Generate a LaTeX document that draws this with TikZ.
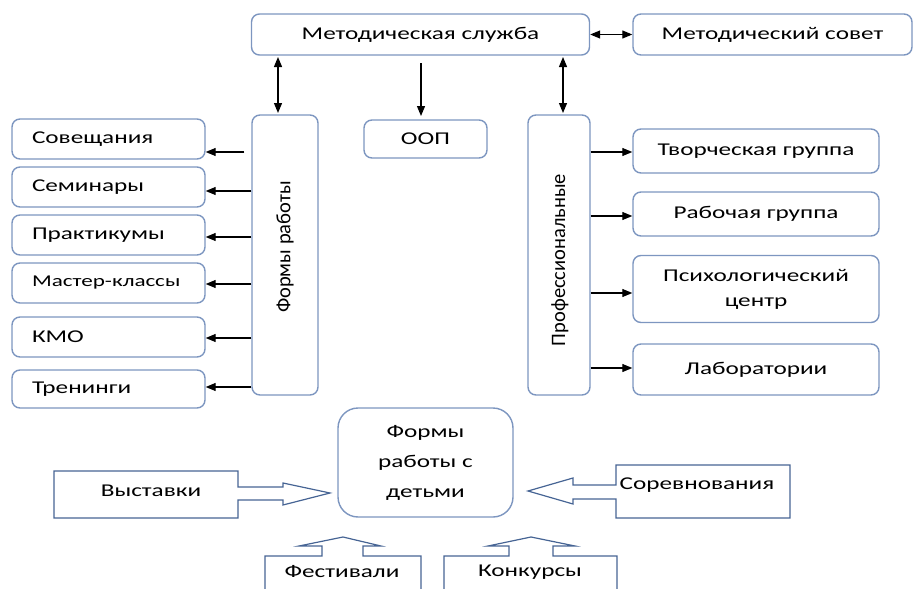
\documentclass[tikz,border=0pt]{standalone}
\usepackage{fontspec}
\setmainfont{Carlito}[FakeStretch=1.4]
\newfontfamily\rotfont{Carlito}
\usetikzlibrary{arrows.meta}
\definecolor{bordc}{RGB}{125,150,192}
\definecolor{callc}{RGB}{70,100,148}
\newcommand\fsz{\fontsize{18}{25}\selectfont}
\newcommand\rsz{\rotfont\fontsize{20.5}{25}\selectfont}
\begin{document}
\begin{tikzpicture}[x=1pt,y=-1pt,
  rbox/.style={draw=bordc, line width=1.4pt, rounded corners=8pt, fill=white, inner sep=0pt, font=\fsz, align=center},
  lbox/.style={rbox, inner xsep=20pt, text width=153pt, align=left, minimum width=193pt, minimum height=40pt},
  rtbox/.style={rbox, minimum width=246pt},
  txt/.style={font=\fsz, inner sep=0pt},
  rtxt/.style={font=\rsz, inner sep=0pt, rotate=90},
  arr/.style={-{Triangle[length=10pt,width=8pt]}, line width=1.2pt, black},
  darr/.style={{Triangle[length=10pt,width=8pt]}-{Triangle[length=10pt,width=8pt]}, line width=1.2pt, black},
  call/.style={draw=callc, line width=1.2pt, line join=miter}
]
\useasboundingbox (0,0) rectangle (914,589);
% top
\node[rbox, minimum width=338pt, minimum height=41pt] (ms) at (420.5,34.5) {Методическая служба};
\node[rbox, minimum width=279pt, minimum height=41pt] (sovet) at (772.5,34.5) {Методический совет};
% vertical boxes
\node[rbox, minimum width=66pt, minimum height=280pt] (fr) at (285,255) {};
\node[rtxt] (frt) at (285,247) {Формы работы};
\node[rbox, minimum width=123pt, minimum height=38pt] (oop) at (425.5,139) {ООП};
\node[rbox, minimum width=62pt, minimum height=280pt] (prof) at (559,255) {};
\node[rtxt] (proft) at (560,260) {Профессиональные};
% left boxes
\node[lbox] (sov) at (108.5,139) {Совещания};
\node[lbox] (sem) at (108.5,187) {Семинары};
\node[lbox] (prak) at (108.5,235) {Практикумы};
\node[lbox, font=\fontsize{16.5}{20}\selectfont] (mast) at (108.5,283) {Мастер-классы};
\node[lbox] (kmo) at (108.5,337) {КМО};
\node[lbox, minimum height=38pt] (tren) at (108.5,389) {Тренинги};
% right boxes
\node[rtbox, minimum height=44pt] (tvor) at (756,151) {Творческая группа};
\node[rtbox, minimum height=44pt] (rab) at (756,214) {Рабочая группа};
\node[rtbox, minimum height=67pt] (psy) at (756,289) {Психологический\\центр};
\node[rtbox, minimum height=51pt] (lab) at (756,369.5) {Лаборатории};
% children box
\node[rbox, rounded corners=20pt, minimum width=175pt, minimum height=109pt,
      font=\fontsize{18}{30}\selectfont] (deti) at (425.5,462.5) {Формы\\работы с\\детьми};
% connectors top
\draw[darr] (ms.east) -- (sovet.west);
\coordinate (a1) at (278,57);
\coordinate (a2) at (278,113);
\draw[darr] (a1) -- (a2);
\coordinate (b1) at (421,63);
\coordinate (b2) at (421,116);
\draw[arr] (b1) -- (b2);
\coordinate (c1) at (563,57);
\coordinate (c2) at (563,113);
\draw[darr] (c1) -- (c2);
% left connectors
\draw[arr] ([xshift=-7pt]fr.west |- 0,152) -- (sov.east |- 0,152);
\draw[arr] (fr.west |- 0,191) -- (sem.east |- 0,191);
\draw[arr] (fr.west |- 0,237) -- (prak.east |- 0,237);
\draw[arr] (fr.west |- 0,284) -- (mast.east |- 0,284);
\draw[arr] (fr.west |- 0,338) -- (kmo.east |- 0,338);
\draw[arr] (fr.west |- 0,387) -- (tren.east |- 0,387);
% right connectors
\draw[arr] (prof.east |- 0,152) -- (tvor.west |- 0,152);
\draw[arr] (prof.east |- 0,216) -- (rab.west |- 0,216);
\draw[arr] (prof.east |- 0,293) -- (psy.west |- 0,293);
\draw[arr] (prof.east |- 0,368) -- (lab.west |- 0,368);
% callouts
\draw[call] (54,471) -- (238,471) -- (238,487) -- (283,487) -- (283,483) -- (330,493) -- (283,505) -- (283,500) -- (238,500) -- (238,518) -- (54,518) -- cycle;
\node[txt] (vyst) at (151,491) {Выставки};
\draw[call] (790,465) -- (616,465) -- (616,485) -- (573,485) -- (573,478) -- (528,491) -- (573,504) -- (573,499) -- (616,499) -- (616,518) -- (790,518) -- cycle;
\node[txt] (sor) at (697,485) {Соревнования};
\draw[call] (265,595) -- (265,556) -- (322,556) -- (322,546) -- (299,546) -- (343,537) -- (381,546) -- (363,546) -- (363,556) -- (421,556) -- (421,595);
\node[txt] (fest) at (342,572) {Фестивали};
\draw[call] (444,595) -- (444,556) -- (509,556) -- (509,546) -- (488,546) -- (531,537) -- (575,546) -- (553,546) -- (553,556) -- (617,556) -- (617,595);
\node[txt] (konk) at (530,572) {Конкурсы};
\end{tikzpicture}
\end{document}
